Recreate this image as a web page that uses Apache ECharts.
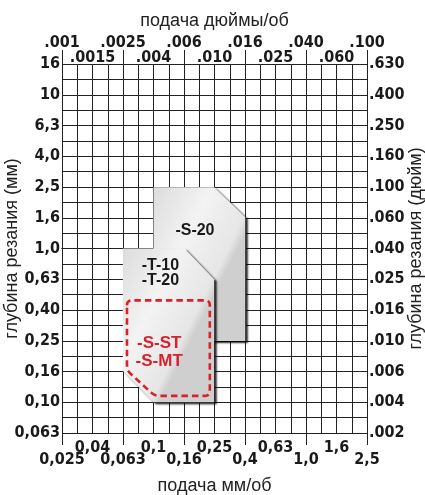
<!DOCTYPE html>
<html><head><meta charset="utf-8">
<script src="https://cdn.jsdelivr.net/npm/echarts@6/dist/echarts.min.js"></script>
<style>html,body{margin:0;padding:0;background:#fff}#c{width:425px;height:495px}</style>
</head><body><div id="c"></div>
<script>
// Tick labels (R10 series, every 2nd grid step)
const feedLabelsMm = ['0,025','0,04','0,063','0,1','0,16','0,25','0,4','0,63','1,0','1,6','2,5'];
const feedLabelsIn = ['.001','.0015','.0025','.004','.006','.010','.016','.025','.040','.060','.100'];
const depthLabelsMm = ['0,063','0,10','0,16','0,25','0,40','0,63','1,0','1,6','2,5','4,0','6,3','10','16'];
const depthLabelsIn = ['.002','.004','.006','.010','.016','.025','.040','.060','.100','.160','.250','.400','.630'];

// Application areas: feed (mm/rev), depth of cut (mm)
const s20Feed  = [0.1, 0.25, 0.4, 0.4, 0.1];
const s20Depth = [2.5, 2.5, 1.6, 0.25, 0.25];
const t10Feed  = [0.063, 0.16, 0.25, 0.25, 0.1, 0.063];
const t10Depth = [1.0, 1.0, 0.63, 0.1, 0.1, 0.16];
const sstFeed  = [0.067, 0.234, 0.234, 0.102, 0.067];
const sstDepth = [0.46, 0.46, 0.11, 0.11, 0.161];

// Area names and where they sit (feed mm/rev, depth mm)
const areaNames = ['-S-20', '-T-10\n-T-20', '-S-ST\n-S-MT'];
const areaNameFeed = [0.187, 0.111, 0.109];
const areaNameDepth = [1.30, 0.687, 0.212];

const lg = v => Math.log10(v);
const X_MIN = -1.6, X_MAX = 0.4, Y_MIN = -1.2, Y_MAX = 1.2, STEP = 0.1;

const tickFont = "'Liberation Sans Narrow','Arial Narrow','DejaVu Sans Condensed',sans-serif";
const nameFont = "'Liberation Sans',Arial,sans-serif";
const lineCol = '#222';

function xIdx(v){ return Math.round((v - X_MIN) / STEP); }
function yIdx(v){ return Math.round((v - Y_MIN) / STEP); }

function roundPts(pts, r, n){
  const out = [];
  const L = pts.length;
  for (let k = 0; k < L; k++){
    const P = pts[k], A = pts[(k - 1 + L) % L], B = pts[(k + 1) % L];
    const la = Math.hypot(A[0]-P[0], A[1]-P[1]), lb = Math.hypot(B[0]-P[0], B[1]-P[1]);
    const rr = Math.min(r, la/2, lb/2);
    const P1 = [P[0] + (A[0]-P[0])/la*rr, P[1] + (A[1]-P[1])/la*rr];
    const P2 = [P[0] + (B[0]-P[0])/lb*rr, P[1] + (B[1]-P[1])/lb*rr];
    for (let s = 0; s <= n; s++){
      const t = s / n;
      out.push([(1-t)*(1-t)*P1[0] + 2*(1-t)*t*P[0] + t*t*P2[0],
                (1-t)*(1-t)*P1[1] + 2*(1-t)*t*P[1] + t*t*P2[1]]);
    }
  }
  return out;
}

const shapes = [
  {feed: s20Feed, depth: s20Depth, kind: 'plate'},
  {feed: t10Feed, depth: t10Depth, kind: 'plate'},
  {feed: sstFeed, depth: sstDepth, kind: 'dash'}
];

const chart = echarts.init(document.getElementById('c'), null, {renderer: 'canvas'});

const baseX = {type: 'value', min: X_MIN, max: X_MAX, interval: STEP, scale: true};
const baseY = {type: 'value', min: Y_MIN, max: Y_MAX, interval: STEP, scale: true};

chart.setOption({
  animation: false,
  backgroundColor: '#fff',
  grid: {left: 62, right: 58, top: 64, bottom: 62, containLabel: false, outerBoundsMode: 'none'},
  xAxis: [
    Object.assign({}, baseX, {
      position: 'bottom',
      name: 'подача мм/об', nameLocation: 'middle', nameGap: 44, nameMoveOverlap: false,
      nameTextStyle: {fontFamily: nameFont, fontSize: 18, color: '#222'},
      axisLine: {show: true, lineStyle: {color: lineCol, width: 1}},
      axisTick: {show: false},
      splitLine: {show: true, lineStyle: {color: lineCol, width: 1}},
      axisLabel: {
        show: true, margin: 9, showMinLabel: true, showMaxLabel: true,
        fontFamily: tickFont, fontWeight: 'bold', fontSize: 16, lineHeight: 12, color: '#1a1a1a',
        formatter: v => { const k = xIdx(v); if (k % 2) return ''; const j = k/2; return j % 2 ? feedLabelsMm[j] : '\n' + feedLabelsMm[j]; }
      }
    }),
    Object.assign({}, baseX, {
      position: 'top',
      name: 'подача дюймы/об', nameLocation: 'middle', nameGap: 34, nameMoveOverlap: false,
      nameTextStyle: {fontFamily: nameFont, fontSize: 18, color: '#222'},
      axisLine: {show: true, lineStyle: {color: lineCol, width: 1}},
      axisTick: {show: false},
      splitLine: {show: false},
      axisLabel: {
        show: true, margin: -1, showMinLabel: true, showMaxLabel: true,
        fontFamily: tickFont, fontWeight: 'bold', fontSize: 16, lineHeight: 15, color: '#1a1a1a',
        formatter: v => { const k = xIdx(v); if (k % 2) return ''; const j = k/2; return j % 2 ? feedLabelsIn[j] : feedLabelsIn[j] + '\n'; }
      }
    }),
    Object.assign({}, baseX, {
      position: 'bottom', interval: 0.4,
      axisLine: {show: false}, splitLine: {show: false}, axisLabel: {show: false},
      axisTick: {show: true, inside: false, length: 12, lineStyle: {color: lineCol, width: 1}}
    }),
    Object.assign({}, baseX, {
      position: 'top', interval: 0.4,
      axisLine: {show: false}, splitLine: {show: false}, axisLabel: {show: false},
      axisTick: {show: true, inside: false, length: 14, lineStyle: {color: lineCol, width: 1}}
    })
  ],
  yAxis: [
    Object.assign({}, baseY, {
      position: 'left',
      name: 'глубина резания (мм)', nameLocation: 'middle', nameGap: 41, nameMoveOverlap: false,
      nameTextStyle: {fontFamily: nameFont, fontSize: 18, color: '#222'},
      axisLine: {show: true, lineStyle: {color: lineCol, width: 1}},
      axisTick: {show: false},
      splitLine: {show: true, lineStyle: {color: lineCol, width: 1}},
      axisLabel: {
        show: true, margin: 2, showMinLabel: true, showMaxLabel: true,
        fontFamily: tickFont, fontWeight: 'bold', fontSize: 16, color: '#1a1a1a',
        formatter: v => { const k = yIdx(v); return k % 2 ? '' : depthLabelsMm[k/2]; }
      }
    }),
    Object.assign({}, baseY, {
      position: 'right',
      name: 'глубина резания (дюйм)', nameLocation: 'middle', nameGap: 40, nameMoveOverlap: false,
      nameTextStyle: {fontFamily: nameFont, fontSize: 18, color: '#222'},
      axisLine: {show: true, lineStyle: {color: lineCol, width: 1}},
      axisTick: {show: false},
      splitLine: {show: false},
      axisLabel: {
        show: true, margin: 2, showMinLabel: true, showMaxLabel: true,
        fontFamily: tickFont, fontWeight: 'bold', fontSize: 16, color: '#1a1a1a',
        formatter: v => { const k = yIdx(v); return k % 2 ? '' : depthLabelsIn[k/2]; }
      }
    })
  ],
  series: [
    {
      type: 'custom', xAxisIndex: 0, yAxisIndex: 0, clip: false, silent: true,
      data: shapes.map((s, i) => [lg(s.feed[0]), lg(s.depth[0]), i]),
      renderItem: (params, api) => {
        const s = shapes[params.dataIndex];
        const pts = s.feed.map((f, k) => api.coord([lg(f), lg(s.depth[k])]));
        if (s.kind === 'plate') {
          return {
            type: 'polygon', shape: {points: pts},
            style: {
              fill: new echarts.graphic.LinearGradient(0, 0, 1, 0.3, [
                {offset: 0, color: '#dcdcdc'}, {offset: 0.5, color: '#f3f3f3'}, {offset: 0.92, color: '#e6e6e6'}, {offset: 1, color: '#cfcfcf'}
              ]),
              stroke: null,
              shadowColor: 'rgba(0,0,0,0.85)', shadowBlur: 2, shadowOffsetX: 2.5, shadowOffsetY: 2
            }
          };
        }
        return {
          type: 'polygon', shape: {points: roundPts(pts, 5, 6)},
          style: {fill: 'none', stroke: '#d7222c', lineWidth: 2.6, lineDash: [6.5, 4]}
        };
      },
      z: 2
    },
    {
      type: 'custom', xAxisIndex: 0, yAxisIndex: 0, clip: false, silent: true,
      data: areaNames.map((n, i) => [lg(areaNameFeed[i]), lg(areaNameDepth[i]), i]),
      renderItem: (params, api) => {
        const i = params.dataIndex;
        const p = api.coord([api.value(0), api.value(1)]);
        const red = i === 2;
        return {
          type: 'text', x: p[0], y: p[1],
          style: {
            text: areaNames[i], align: 'center', verticalAlign: 'middle',
            fontFamily: nameFont, fontWeight: 'bold', fontSize: red ? 17 : 16,
            lineHeight: red ? 18 : 15, fill: red ? '#d7222c' : '#1a1a1a'
          }
        };
      },
      z: 3
    }
  ]
});
</script>
</body></html>
